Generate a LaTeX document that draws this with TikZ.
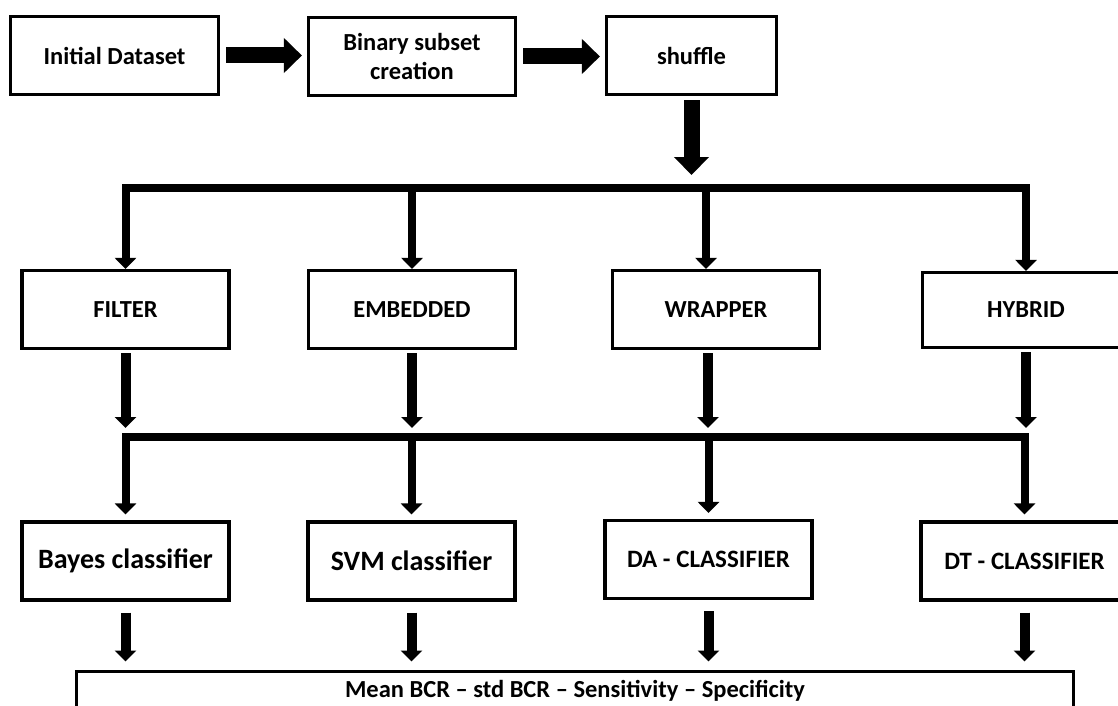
\documentclass[tikz,border=0pt]{standalone}
\usepackage{fontspec}
\setmainfont{Carlito}
\usetikzlibrary{arrows.meta}

\tikzset{
  box/.style={draw, line width=3.2pt, minimum width=207pt, minimum height=78pt,
    inner sep=0pt, align=center, font=\fontsize{24.5}{29}\selectfont\bfseries},
  bigbox/.style={box, font=\fontsize{28}{32}\selectfont\bfseries},
  capbox/.style={box, font=\fontsize{25}{29}\selectfont\bfseries},
  fat/.style={line width=16pt, -{Triangle[width=34pt,length=18pt]}},
  branch/.style={line width=8pt, -{Triangle[width=21pt,length=11pt]}},
  stub/.style={line width=10pt, -{Triangle[width=21pt,length=11pt]}},
}

\begin{document}
\begin{tikzpicture}[x=1pt,y=-1pt]
\useasboundingbox (0,0) rectangle (1118,706);

% first row
\node[box, minimum width=208pt] (ini) at (114.5,55.5) {Initial Dataset};
\node[box] (bin) at (412,56.5) {Binary subset\\creation};
\node[box, minimum width=170pt] (shu) at (691.5,55.5) {shuffle};

% selection methods
\node[box] (fil) at (125.5,309.5) {FILTER};
\node[box] (emb) at (412,309.5) {EMBEDDED};
\node[box] (wra) at (716,309.5) {WRAPPER};
\node[box, minimum height=75pt] (hyb) at (1026,310) {HYBRID};

% classifiers
\node[bigbox] (bay) at (125.5,561) {Bayes classifier};
\node[bigbox] (svm) at (411.5,561) {SVM classifier};
\node[capbox] (da) at (708.5,559.5) {DA - CLASSIFIER};
\node[capbox] (dt) at (1024.5,561) {DT - CLASSIFIER};

% results
\node[box, line width=3pt, minimum width=997pt, minimum height=40pt,
  font=\fontsize{24.5}{28}\selectfont\bfseries] (res) at (575,691)
  {Mean BCR – std BCR – Sensitivity – Specificity};

\coordinate (b1) at (691.5,188);
\coordinate (b2) at (575,437);
\coordinate (wraIn) at ([xshift=-10pt]wra.north);
\coordinate (wraOut) at ([xshift=-8pt]wra.south);

% top row arrows
\draw[fat, shorten <=6pt, shorten >=5pt] (ini.east) -- (ini.east -| bin.west);
\draw[fat, shorten <=6pt, shorten >=5pt] (bin.east) -- (bin.east -| shu.west);
\draw[fat, shorten <=4pt, shorten >=13pt] (shu.south) -- (b1);

% first bar
\draw[branch] (b1) -| (fil.north);
\draw[branch] (b1) -| (hyb.north);
\draw[branch] (emb.north |- b1) -- (emb.north);
\draw[branch] (wraIn |- b1) -- (wraIn);

% down to second bar
\foreach \n in {fil,emb,hyb}
  \draw[stub, shorten <=3pt, shorten >=9pt] (\n.south) -- (\n.south |- b2);
\draw[stub, shorten <=3pt, shorten >=9pt] (wraOut) -- (wraOut |- b2);

% second bar
\draw[branch, shorten >=6pt] (b2) -| (bay.north);
\draw[branch, shorten >=6pt] (b2) -| (dt.north);
\foreach \n in {svm,da}
  \draw[branch, shorten >=6pt] (\n.north |- b2) -- (\n.north);

% down to results
\foreach \n in {bay,svm,da,dt}
  \draw[stub, shorten <=11pt, shorten >=8pt] (\n.south) -- (\n.south |- res.north);

\end{tikzpicture}
\end{document}
